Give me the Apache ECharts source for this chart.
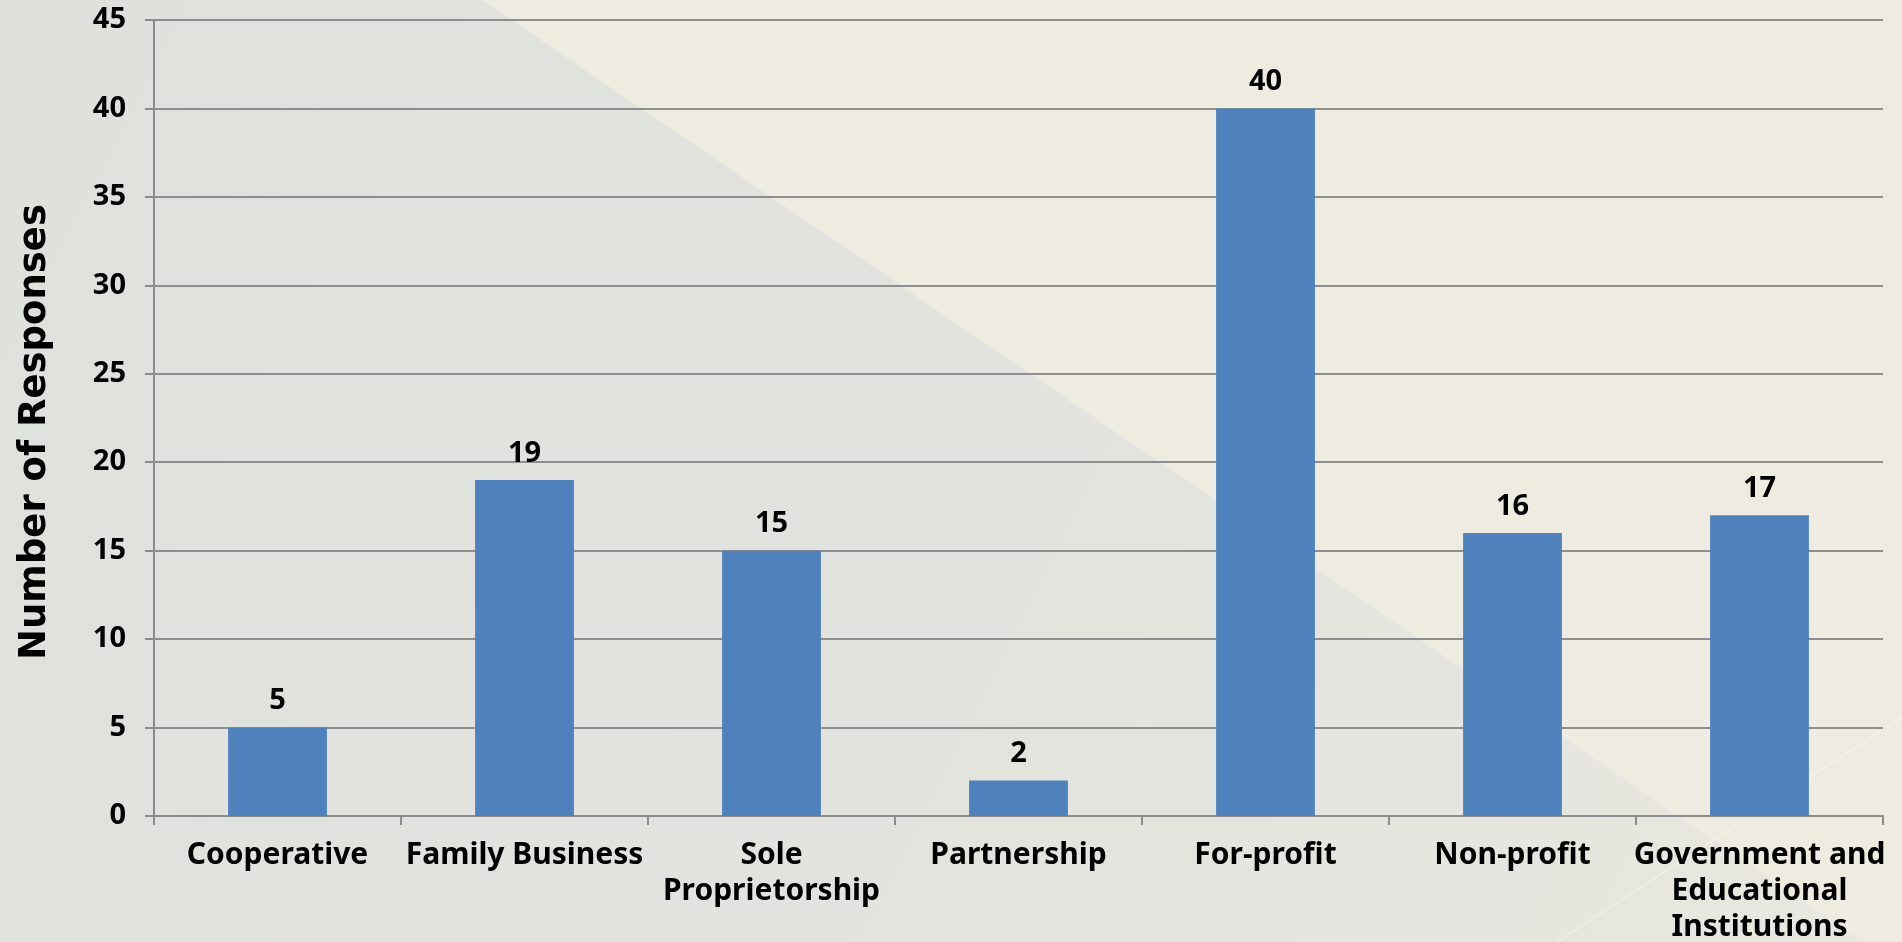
<!DOCTYPE html>
<html>
<head>
<meta charset="utf-8">
<title>Number of Responses by Organization Type</title>
<script src="https://cdn.jsdelivr.net/npm/echarts@6/dist/echarts.min.js"></script>
<style>
  html, body { margin: 0; padding: 0; width: 100%; height: 100%; overflow: hidden; }
  #chart { width: 1902px; height: 942px; }
</style>
</head>
<body>
<div id="chart"></div>
<script>
// Organization types (line breaks as shown under the axis)
const categories = [
  'Cooperative',
  'Family Business',
  'Sole\nProprietorship',
  'Partnership',
  'For-profit',
  'Non-profit',
  'Government and\nEducational\nInstitutions'
];
// Responses per organization type
const responses = [5, 19, 15, 2, 40, 16, 17];
// Value axis range
const yMin = 0;
const yMax = 45;
const yStep = 5;

const chart = echarts.init(document.getElementById('chart'), null, { renderer: 'canvas' });
const W = 1902, H = 942;
const labelFont = '"Noto Sans", "DejaVu Sans", sans-serif';

chart.setOption({
  backgroundColor: '#eeebe0',
  animation: false,
  graphic: [
    {
      // grey diagonal panel behind the plot
      type: 'polygon',
      z: -100,
      silent: true,
      shape: { points: [[0, 0], [482, 0], [1863, H], [0, H]] },
      style: {
        fill: new echarts.graphic.LinearGradient(0, 0, 1, 1, [
          { offset: 0, color: '#dfe1dc' },
          { offset: 0.5, color: '#e2e3de' },
          { offset: 1, color: '#e8e7e0' }
        ])
      }
    },
    {
      // thin light accent line in the lower right corner
      type: 'line',
      z: -99,
      silent: true,
      shape: { x1: 1557, y1: H, x2: W, y2: 717 },
      style: { stroke: 'rgba(255,255,255,0.55)', lineWidth: 1 }
    }
  ],
  grid: {
    left: 154, right: 19, top: 20, bottom: 126,
    containLabel: false,
    outerBoundsMode: 'none'
  },
  xAxis: {
    type: 'category',
    data: categories,
    boundaryGap: true,
    axisLine: { show: true, lineStyle: { color: '#8c8c8c', width: 2 } },
    axisTick: { show: true, alignWithLabel: false, length: 9, lineStyle: { color: '#8c8c8c', width: 2 } },
    axisLabel: {
      interval: 0,
      margin: 21,
      color: '#000',
      fontFamily: labelFont,
      fontWeight: 'bold',
      fontSize: 30,
      lineHeight: 36,
      align: 'center'
    }
  },
  yAxis: {
    type: 'value',
    min: yMin,
    max: yMax,
    interval: yStep,
    name: 'Number of Responses',
    nameLocation: 'middle',
    nameGap: 100,
    nameRotate: 90,
    nameTextStyle: {
      color: '#000',
      fontFamily: '"DejaVu Sans", sans-serif',
      fontWeight: 'bold',
      fontSize: 37,
      padding: [0, 28, 0, 0]
    },
    axisLine: { show: true, lineStyle: { color: '#8c8c8c', width: 2 } },
    axisTick: { show: true, length: 9, lineStyle: { color: '#8c8c8c', width: 2 } },
    splitLine: { show: true, lineStyle: { color: '#8e8e8e', width: 2 } },
    axisLabel: {
      margin: 28,
      color: '#000',
      fontFamily: labelFont,
      fontWeight: 'bold',
      fontSize: 29
    }
  },
  series: [
    {
      type: 'bar',
      data: responses,
      barWidth: '40%',
      itemStyle: { color: '#4f81bd' },
      label: {
        show: true,
        position: 'top',
        distance: 12,
        color: '#000',
        fontFamily: labelFont,
        fontWeight: 'bold',
        fontSize: 29
      }
    }
  ]
});
</script>
</body>
</html>
